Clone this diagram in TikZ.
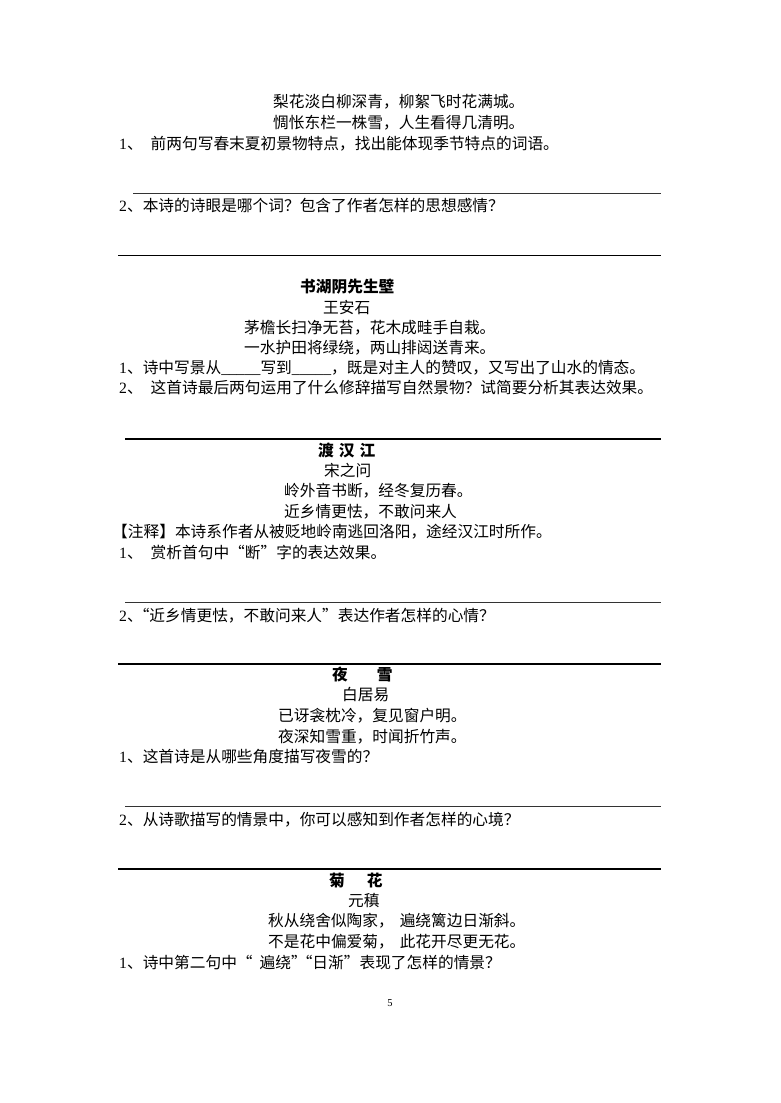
\documentclass[tikz,border=0pt]{standalone}
\usepackage{fontspec}
\setmainfont{Liberation Serif}
\newfontfamily\cjk{Noto Sans CJK SC}
\newcommand\dg[1]{{\rmfamily #1}}
\tikzset{
  txt/.style={anchor=west, inner sep=0pt, text height=0.88em, text depth=0.12em,
              font=\cjk\fontsize{15.7pt}{19pt}\selectfont},
  ttl/.style={txt, font=\cjk\bfseries\fontsize{15.7pt}{19pt}\selectfont},
  thinrule/.style={line width=0.8pt, draw=black!80},
  thickrule/.style={line width=1.8pt, draw=black},
}
\begin{document}
\begin{tikzpicture}[x=1pt, y=-1pt]
\fill[white] (0,0) rectangle (780,1103);
\useasboundingbox (0,0) rectangle (780,1103);

% ---- Section 1
\node[txt] (s1a) at (273,104) {梨花淡白柳深青，柳絮飞时花满城。};
\node[txt] (s1b) at (273,125) {惆怅东栏一株雪，人生看得几清明。};
\node[txt] (s1q1) at (119,146) {\dg{1}、\hspace{8pt}前两句写春末夏初景物特点，找出能体现季节特点的词语。};
\draw[thinrule] (133,193) -- (661,193);
\node[txt] (s1q2) at (119,208) {\dg{2}、本诗的诗眼是哪个词？包含了作者怎样的思想感情？};
\draw[thickrule] (118,255.5) -- (661,255.5);

% ---- Section 2
\node[ttl] (s2t) at (300,289) {书湖阴先生壁};
\node[txt] (s2au) at (323,310) {王安石};
\node[txt] (s2a) at (244,330) {茅檐长扫净无苔，花木成畦手自栽。};
\node[txt] (s2b) at (244,350) {一水护田将绿绕，两山排闼送青来。};
\node[txt] (s2q1) at (119,370) {\dg{1}、诗中写景从\dg{\_\_\_\_\_}写到\dg{\_\_\_\_\_}，既是对主人的赞叹，又写出了山水的情态。};
\node[txt] (s2q2) at (119,390) {\dg{2}、\hspace{8pt}这首诗最后两句运用了什么修辞描写自然景物？试简要分析其表达效果。};
\draw[thickrule] (125,439) -- (661,439);

% ---- Section 3
\node[ttl] (s3t) at (318,453) {渡\hspace{5pt}汉\hspace{5pt}江};
\node[txt] (s3au) at (324,473) {宋之问};
\node[txt] (s3a) at (284,493) {岭外音书断，经冬复历春。};
\node[txt] (s3b) at (284,514) {近乡情更怯，不敢问来人};
\node[txt] (s3n) at (112,534) {【注释】本诗系作者从被贬地岭南逃回洛阳，途经汉江时所作。};
\node[txt] (s3q1) at (119,555) {\dg{1}、\hspace{8pt}赏析首句中“断”字的表达效果。};
\draw[thinrule] (125,602) -- (661,602);
\node[txt] (s3q2) at (119,618) {\dg{2}、\hspace{-9pt}“近乡情更怯，不敢问来人”表达作者怎样的心情？};
\draw[thickrule] (118,664) -- (661,664);

% ---- Section 4
\node[ttl] (s4t) at (332,677) {夜\hspace{29pt}雪};
\node[txt] (s4au) at (342,697) {白居易};
\node[txt] (s4a) at (278,718) {已讶衾枕冷，复见窗户明。};
\node[txt] (s4b) at (278,739) {夜深知雪重，时闻折竹声。};
\node[txt] (s4q1) at (119,759) {\dg{1}、这首诗是从哪些角度描写夜雪的？};
\draw[thinrule] (125,806) -- (661,806);
\node[txt] (s4q2) at (119,822) {\dg{2}、从诗歌描写的情景中，你可以感知到作者怎样的心境？};
\draw[thickrule] (118,869) -- (661,869);

% ---- Section 5
\node[ttl] (s5t) at (329,883) {菊\hspace{22pt}花};
\node[txt] (s5au) at (348,903) {元稹};
\node[txt] (s5a) at (268,923) {秋从绕舍似陶家，\hspace{6pt}遍绕篱边日渐斜。};
\node[txt] (s5b) at (268,944) {不是花中偏爱菊，\hspace{6pt}此花开尽更无花。};
\node[txt] (s5q1) at (119,965) {\dg{1}、诗中第二句中“\hspace{7pt}遍绕”\hspace{-10pt}“日渐”表现了怎样的情景？};

\node[anchor=center, inner sep=0pt, font=\rmfamily\fontsize{10.5pt}{12pt}\selectfont] (pg) at (390,1003) {5};
\end{tikzpicture}
\end{document}
